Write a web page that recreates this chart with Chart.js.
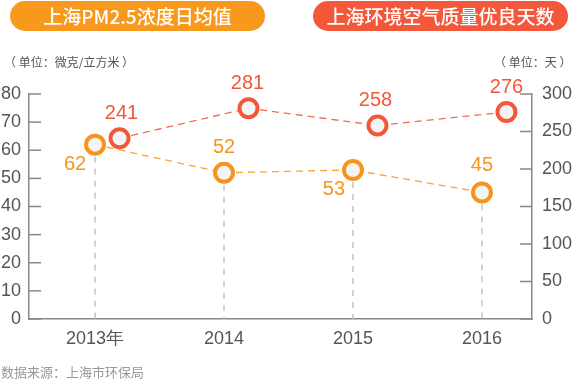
<!DOCTYPE html>
<html>
<head>
<meta charset="utf-8">
<script src="https://cdn.jsdelivr.net/npm/chart.js@4.4.1/dist/chart.umd.min.js"></script>
<style>
  body { margin: 0; background: #fff; font-family: "Noto Sans CJK SC", sans-serif; }
  #wrap { position: relative; width: 573px; height: 379px; }
  .badge { position: absolute; top: 1px; height: 30px; border-radius: 15px; color: #fff;
    font-size: 19px; font-weight: 500; line-height: 30px; text-align: center; }
  .unit { position: absolute; top: 53px; font-size: 12px; color: #555; }
  #src { position: absolute; left: 1px; top: 362px; font-size: 13px; color: #999; }
</style>
</head>
<body>
<div id="wrap">
  <canvas id="chart"></canvas>
  <div class="badge" style="left:10px;width:255px;background:#f8991d;">上海PM2.5浓度日均值</div>
  <div class="badge" style="left:313px;width:255px;background:#f5573b;">上海环境空气质量优良天数</div>
  <div class="unit" style="left:4px;">（ 单位：微克/立方米 ）</div>
  <div class="unit" style="left:494px;">（ 单位：天 ）</div>
  <div id="src">数据来源：上海市环保局</div>
</div>
<script>
const years = ["2013年", "2014", "2015", "2016"];
const pm25 = [62, 52, 53, 45];
const goodDays = [241, 281, 258, 276];

const ORANGE = "#f7941d";
const RED = "#f4563a";
const tickFont = { family: "Liberation Sans, Arial, sans-serif", size: 18 };

// label offsets relative to each point
const pmLabelOffset = [[-20, 20], [0, -25], [-19, 20], [0, -27]];
const dayLabelOffset = [[2, -25], [-1, -25], [-2, -25], [0, -25]];

// vertical dashed guides under orange points + inward ticks on y axes
const guides = {
  id: "guides",
  beforeDatasetsDraw(chart) {
    const ctx = chart.ctx;
    const meta = chart.getDatasetMeta(1);
    const bottom = chart.chartArea.bottom;
    ctx.save();
    ctx.strokeStyle = "#c4c4c4";
    ctx.lineWidth = 1.5;
    ctx.setLineDash([6, 6]);
    meta.data.forEach((p) => {
      ctx.beginPath();
      ctx.moveTo(p.x, p.y);
      ctx.lineTo(p.x, bottom);
      ctx.stroke();
    });
    ctx.setLineDash([]);
    ctx.strokeStyle = "#888";
    ctx.lineWidth = 1.5;
    ["y", "y1"].forEach((id) => {
      const s = chart.scales[id];
      const x0 = id === "y" ? s.right : s.left;
      const dir = id === "y" ? 1 : -1;
      s.ticks.forEach((t) => {
        const py = s.getPixelForValue(t.value);
        ctx.beginPath();
        ctx.moveTo(x0, py);
        ctx.lineTo(x0 + dir * 12, py);
        ctx.stroke();
      });
    });
    ctx.restore();
  },
  afterDatasetsDraw(chart) {
    const ctx = chart.ctx;
    ctx.save();
    ctx.font = "20px Liberation Sans, Arial, sans-serif";
    ctx.textAlign = "center";
    ctx.textBaseline = "middle";
    const sets = [
      { meta: chart.getDatasetMeta(0), vals: goodDays, off: dayLabelOffset, color: RED },
      { meta: chart.getDatasetMeta(1), vals: pm25, off: pmLabelOffset, color: ORANGE },
    ];
    sets.forEach((s) => {
      ctx.fillStyle = s.color;
      s.meta.data.forEach((p, i) => {
        ctx.fillText(String(s.vals[i]), p.x + s.off[i][0], p.y + s.off[i][1]);
      });
    });
    ctx.restore();
  },
};

new Chart(document.getElementById("chart"), {
  type: "line",
  data: {
    datasets: [
      {
        label: "优良天数",
        data: goodDays.map((v, i) => ({ x: i + 0.19, y: v })),
        yAxisID: "y1",
        order: 0,
        borderColor: "#f36a4e",
        borderWidth: 1.3,
        borderDash: [7, 5],
        pointRadius: 9,
        pointBorderWidth: 4,
        pointBorderColor: RED,
        pointBackgroundColor: "#f4f4f4",
      },
      {
        label: "PM2.5",
        data: pm25.map((v, i) => ({ x: i, y: v })),
        yAxisID: "y",
        order: 1,
        borderColor: "#f9a33a",
        borderWidth: 1.3,
        borderDash: [7, 5],
        pointRadius: 9,
        pointBorderWidth: 4,
        pointBorderColor: ORANGE,
        pointBackgroundColor: "#f4f4f4",
      },
    ],
  },
  options: {
    responsive: true,
    maintainAspectRatio: false,
    animation: false,
    layout: { padding: { top: 94 } },
    plugins: { legend: { display: false }, tooltip: { enabled: false } },
    scales: {
      x: {
        type: "linear",
        min: -0.512,
        max: 3.388,
        afterBuildTicks: (s) => { s.ticks = years.map((y, i) => ({ value: i })); },
        afterFit: (s) => { s.height = 60; },
        grid: { display: false },
        border: { color: "#888", width: 1.5 },
        ticks: { font: tickFont, color: "#555", padding: 1, callback: (v) => years[v] },
      },
      y: {
        position: "left",
        min: 0,
        max: 80,
        afterFit: (s) => { s.width = 29; },
        grid: { display: false },
        border: { color: "#888", width: 1.5 },
        ticks: { stepSize: 10, font: tickFont, color: "#555", padding: 0 },
      },
      y1: {
        position: "right",
        min: 0,
        max: 300,
        afterFit: (s) => { s.width = 41; },
        grid: { display: false },
        border: { color: "#888", width: 1.5 },
        ticks: { stepSize: 50, font: tickFont, color: "#555", padding: 2 },
      },
    },
  },
  plugins: [guides],
});
</script>
</body>
</html>
